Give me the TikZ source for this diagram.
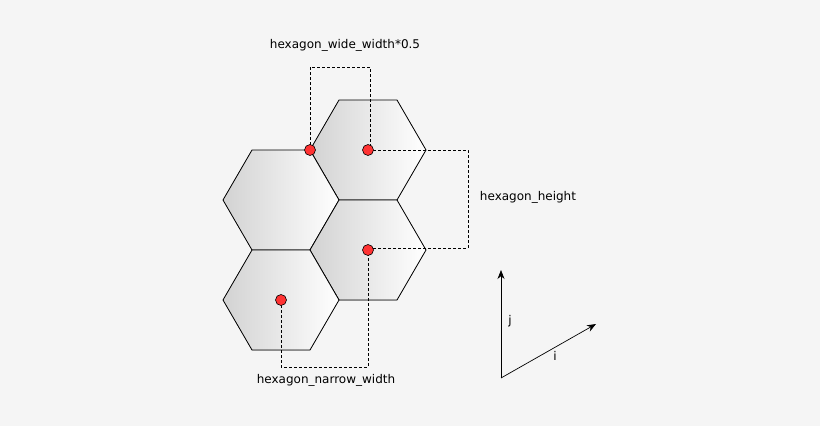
\documentclass[tikz,border=0pt]{standalone}
\usepackage{fontspec}
\setmainfont{DejaVu Sans}
\usetikzlibrary{arrows.meta}
\begin{document}
\begin{tikzpicture}[x=1pt,y=-1pt,
  hexbox/.style={draw=black,line width=0.8pt,left color=gray!35,right color=white,shading angle=90},
  dot/.style={circle,draw=black,fill=red!80!white,line width=0.6pt,minimum size=11pt,inner sep=0pt},
  dim/.style={densely dashed,line width=0.5pt},
  lbl/.style={font=\fontsize{12}{14}\selectfont,inner sep=1pt},
  ax/.style={-{Stealth[length=9pt,width=7pt]},line width=0.7pt}]
\fill[gray!8] (0,0) rectangle (820,426);
\useasboundingbox (0,0) rectangle (820,426);
\foreach \n/\cx/\cy in {h1/368/150,h2/281/200,h3/368/250,h4/281/300}{
  \filldraw[hexbox] (\cx-58,\cy) -- (\cx-29,\cy-50) -- (\cx+29,\cy-50) -- (\cx+58,\cy) -- (\cx+29,\cy+50) -- (\cx-29,\cy+50) -- cycle;
}
\coordinate (w1) at (310,67);
\coordinate (w2) at (370,67);
\coordinate (e1) at (468,150);
\coordinate (e2) at (468,248);
\coordinate (s1) at (281,367);
\coordinate (s2) at (368,367);
\draw[dim] (310,150) -- (w1) -- (w2) -- (370,150);
\draw[dim] (368,150) -- (e1) -- (e2) -- (368,248);
\draw[dim] (281,300) -- (s1) -- (s2) -- (368,250);
\node[dot] (d1) at (310,150) {};
\node[dot] (d2) at (368,150) {};
\node[dot] (d3) at (368,250) {};
\node[dot] (d4) at (281,300) {};
\node[lbl] (l1) at (345,45) {hexagon\_wide\_width*0.5};
\node[lbl] (l2) at (528,197) {hexagon\_height};
\node[lbl] (l3) at (326,380) {hexagon\_narrow\_width};
\coordinate (o) at (501,378);
\coordinate (aj) at (501,270);
\coordinate (ai) at (596,324);
\draw[ax] (o) -- (aj);
\draw[ax] (o) -- (ai);
\node[lbl] (lj) at (510,321) {j};
\node[lbl] (li) at (555,356) {i};
\end{tikzpicture}
\end{document}
